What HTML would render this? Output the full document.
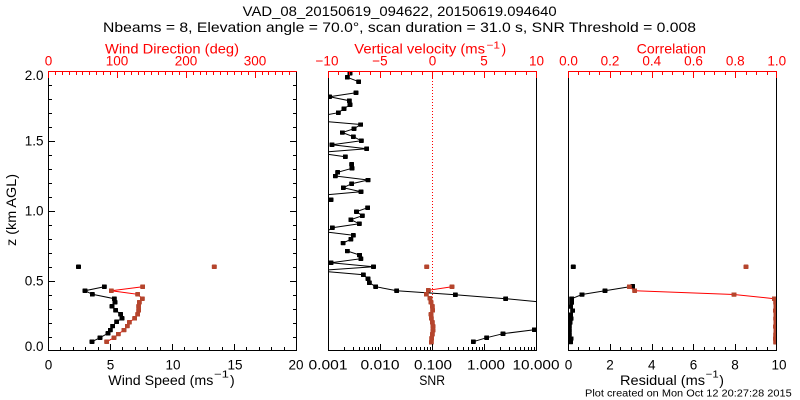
<!DOCTYPE html>
<html><head><meta charset="utf-8"><style>
html,body{margin:0;padding:0;background:#fff;}
svg{display:block;}
text{font-family:"Liberation Sans",sans-serif;}
</style></head><body>
<svg width="800" height="400" viewBox="0 0 800 400" xmlns="http://www.w3.org/2000/svg">
<defs>
<marker id="mb" markerWidth="5" markerHeight="4.5" refX="2.5" refY="2.25" markerUnits="userSpaceOnUse"><rect width="5" height="4.5" rx="0.8" fill="#000"/></marker>
<marker id="mr" markerWidth="5" markerHeight="4.5" refX="2.5" refY="2.25" markerUnits="userSpaceOnUse"><rect width="5" height="4.5" rx="0.8" fill="#b5452d"/></marker>
<clipPath id="c2"><rect x="328.5" y="71" width="208" height="280"/></clipPath>
<clipPath id="c3"><rect x="568.5" y="71" width="208" height="280"/></clipPath>
</defs>
<rect width="800" height="400" fill="#fff"/>

<!-- Titles -->
<text x="242.7" y="16" font-size="14" textLength="314" lengthAdjust="spacingAndGlyphs">VAD_08_20150619_094622, 20150619.094640</text>
<text x="103" y="32" font-size="14" textLength="593" lengthAdjust="spacingAndGlyphs">Nbeams = 8, Elevation angle = 70.0°, scan duration = 31.0 s, SNR Threshold = 0.008</text>

<!-- ========== Panel 1 ========== -->
<g fill="none" stroke-width="1">
<polyline points="104.3,286.7 85,290.7 92.3,294.3 114.3,298.7 115,302.3 112,306.3 115.7,310.3 120.7,314.3 122,318.3 116.7,321.7 112.7,326 110.3,330 108,333.3 100,337.7 92,341.7" stroke="#000" marker-start="url(#mb)" marker-mid="url(#mb)" marker-end="url(#mb)"/>
<polyline points="142.7,286.7 111.3,290.7 137.7,294.3 142.3,298.7 139.3,302.3 138.7,306.3 138.7,310.3 137.7,314.3 134.7,318.3 129.3,322.3 127.3,326 124,330 118.3,334 114,337.7 106.7,341.7" stroke="#f00" marker-start="url(#mr)" marker-mid="url(#mr)" marker-end="url(#mr)"/>
</g>
<rect x="76" y="264.5" width="5" height="4.5" rx="0.8" fill="#000"/>
<rect x="211.8" y="264.5" width="5" height="4.5" rx="0.8" fill="#b5452d"/>

<g shape-rendering="crispEdges" fill="none" stroke-width="1">
<path stroke="#000" d="M48.5 71V351M296.5 71V351M48 350.5H297"/>
<path stroke="#f00" d="M48 71.5H297"/>
<path stroke="#000" d="M49 85.5h3M49 99.5h3M49 113.5h3M49 127.5h3M49 141.5h6M49 155.5h3M49 169.5h3M49 183.5h3M49 197.5h3M49 211.5h6M49 225.5h3M49 239.5h3M49 253.5h3M49 267.5h3M49 281.5h6M49 295.5h3M49 309.5h3M49 323.5h3M49 337.5h3"/>
<path stroke="#000" d="M296 85.5h-3M296 99.5h-3M296 113.5h-3M296 127.5h-3M296 141.5h-6M296 155.5h-3M296 169.5h-3M296 183.5h-3M296 197.5h-3M296 211.5h-6M296 225.5h-3M296 239.5h-3M296 253.5h-3M296 267.5h-3M296 281.5h-6M296 295.5h-3M296 309.5h-3M296 323.5h-3M296 337.5h-3"/>
<path stroke="#000" d="M60.5 350v-3M73.5 350v-3M85.5 350v-3M98.5 350v-3M110.5 350v-6M122.5 350v-3M135.5 350v-3M147.5 350v-3M160.5 350v-3M172.5 350v-6M184.5 350v-3M197.5 350v-3M209.5 350v-3M222.5 350v-3M234.5 350v-6M246.5 350v-3M259.5 350v-3M271.5 350v-3M284.5 350v-3"/>
<path stroke="#f00" d="M48.5 72v6M55.5 72v3M62.5 72v3M69.5 72v3M76.5 72v3M82.5 72v3M89.5 72v3M96.5 72v3M103.5 72v3M110.5 72v3M117.5 72v6M124.5 72v3M131.5 72v3M138.5 72v3M144.5 72v3M151.5 72v3M158.5 72v3M165.5 72v3M172.5 72v3M179.5 72v3M186.5 72v6M193.5 72v3M200.5 72v3M206.5 72v3M213.5 72v3M220.5 72v3M227.5 72v3M234.5 72v3M241.5 72v3M248.5 72v3M255.5 72v6M262.5 72v3M268.5 72v3M275.5 72v3M282.5 72v3M289.5 72v3"/>
</g>

<!-- Panel 1 text -->
<text x="105" y="53.5" font-size="14" fill="#f00" textLength="134" lengthAdjust="spacingAndGlyphs">Wind Direction (deg)</text>
<g font-size="13.5" fill="#f00" text-anchor="middle">
<text x="48.5" y="65.5">0</text>
<text x="117" y="65.5">100</text>
<text x="186" y="65.5">200</text>
<text x="255" y="65.5">300</text>
</g>
<g font-size="13.5" fill="#000" text-anchor="end">
<text x="43.5" y="80">2.0</text>
<text x="43.5" y="145.5">1.5</text>
<text x="43.5" y="215.5">1.0</text>
<text x="43.5" y="285.5">0.5</text>
<text x="43.5" y="351">0.0</text>
</g>
<text transform="translate(16,210) rotate(-90)" font-size="13.5" text-anchor="middle" textLength="72" lengthAdjust="spacingAndGlyphs">z (km AGL)</text>
<g font-size="13.5" fill="#000" text-anchor="middle">
<text x="48.5" y="369.5">0</text>
<text x="110.5" y="369.5">5</text>
<text x="173" y="369.5">10</text>
<text x="235" y="369.5">15</text>
<text x="296" y="369.5">20</text>
</g>
<text x="108.3" y="385" font-size="14" textLength="105" lengthAdjust="spacingAndGlyphs">Wind Speed (ms</text>
<text x="214" y="377.5" font-size="10" textLength="15" lengthAdjust="spacingAndGlyphs">−1</text>
<text x="230" y="385" font-size="14">)</text>

<!-- ========== Panel 2 ========== -->
<line x1="432.5" y1="72" x2="432.5" y2="350" stroke="#f00" stroke-width="1" stroke-dasharray="1,2" shape-rendering="crispEdges"/>
<g clip-path="url(#c2)" fill="none" stroke-width="1">
<g stroke="#000">
<polyline points="350,73.3 347.3,77.3 358.7,81.7" marker-start="url(#mb)" marker-mid="url(#mb)" marker-end="url(#mb)"/>
<polyline points="356,92.7 329.5,96.7 349.3,100.7 350,104.7 344,108.7 338.3,112.7 316,116.7 316,120.7 360.7,124.5 354,128.7 342.3,132.5 353.3,136.7 361.3,140.7 332,144.7 366.7,148.7 316,152.7 345.3,156.7" marker-start="url(#mb)" marker-mid="url(#mb)" marker-end="url(#mb)"/>
<polyline points="351.7,164.3 352,168.3 337.7,172.3 335.3,176 368,180 351.7,183.7 343.3,187.7 361,191.7 316,195.7 331,199.7" marker-start="url(#mb)" marker-mid="url(#mb)" marker-end="url(#mb)"/>
<polyline points="367.7,207.7 356.5,211.7 362.3,215.7 350.8,219.7 359.3,223.7 332.3,227.7 326,232 353.3,235.3 350.8,239.3 343.2,243" marker-start="url(#mb)" marker-mid="url(#mb)" marker-end="url(#mb)"/>
<polyline points="347.3,251 359.5,255 360.8,258.7 331,262.7 373.5,266.7 316,270.7 363.3,274.7 368,278.7 369.3,282.7 375.7,286.7 396.7,290.7 455.3,294.7 505.7,298.7 547,302.7 560,306.7 560,310.7 560,314.7 560,318.7 560,322.7 547,325.7 534.3,329.7 503,333.7 486.7,337.7 473.3,341.7" marker-start="url(#mb)" marker-mid="url(#mb)" marker-end="url(#mb)"/>
</g>
<polyline stroke="#f00" points="452,286.7 428.3,290.3 426.3,294.3 430,298.3 431,302.3 432.3,306.3 432.7,310.3 431,314.3 431.3,318.3 432.3,322.3 433,326.3 433,330.3 432.3,334.3 431.7,338.3 431.3,342.3" marker-start="url(#mr)" marker-mid="url(#mr)" marker-end="url(#mr)"/>
<rect x="424.2" y="264.5" width="5" height="4.5" rx="0.8" fill="#b5452d"/>
</g>

<g shape-rendering="crispEdges" fill="none" stroke-width="1">
<path stroke="#000" d="M328.5 71V351M536.5 71V351M328 350.5H537"/>
<path stroke="#f00" d="M328 71.5H537"/>
<path stroke="#000" d="M380.5 350v-6M432.5 350v-6M484.5 350v-6M344.5 350v-3M353.5 350v-3M359.5 350v-3M364.5 350v-3M368.5 350v-3M372.5 350v-3M375.5 350v-3M378.5 350v-3M396.5 350v-3M405.5 350v-3M411.5 350v-3M416.5 350v-3M420.5 350v-3M424.5 350v-3M427.5 350v-3M430.5 350v-3M448.5 350v-3M457.5 350v-3M463.5 350v-3M468.5 350v-3M472.5 350v-3M476.5 350v-3M479.5 350v-3M482.5 350v-3M500.5 350v-3M509.5 350v-3M515.5 350v-3M520.5 350v-3M524.5 350v-3M528.5 350v-3M531.5 350v-3M534.5 350v-3"/>
<path stroke="#f00" d="M328.5 72v6M338.5 72v3M349.5 72v3M359.5 72v3M370.5 72v3M380.5 72v6M390.5 72v3M401.5 72v3M411.5 72v3M422.5 72v3M432.5 72v6M442.5 72v3M453.5 72v3M463.5 72v3M474.5 72v3M484.5 72v6M494.5 72v3M505.5 72v3M515.5 72v3M526.5 72v3M536.5 72v6"/>
</g>

<!-- Panel 2 text -->
<text x="354.3" y="53.5" font-size="14" fill="#f00" textLength="130.7" lengthAdjust="spacingAndGlyphs">Vertical velocity (ms</text>
<text x="486.5" y="48.5" font-size="10" fill="#f00" textLength="13.5" lengthAdjust="spacingAndGlyphs">−1</text>
<text x="501.5" y="53.5" font-size="14" fill="#f00">)</text>
<g font-size="13.5" fill="#f00" text-anchor="middle">
<text x="327" y="65.5">−10</text>
<text x="380" y="65.5">−5</text>
<text x="432.5" y="65.5">0</text>
<text x="484" y="65.5">5</text>
<text x="536.5" y="65.5">10</text>
</g>
<g font-size="13.5" fill="#000" text-anchor="middle">
<text x="328" y="369.5" textLength="39" lengthAdjust="spacingAndGlyphs">0.001</text>
<text x="380" y="369.5" textLength="39" lengthAdjust="spacingAndGlyphs">0.010</text>
<text x="433" y="369.5" textLength="38" lengthAdjust="spacingAndGlyphs">0.100</text>
<text x="486" y="369.5" textLength="38" lengthAdjust="spacingAndGlyphs">1.000</text>
<text x="536" y="369.5" textLength="47" lengthAdjust="spacingAndGlyphs">10.000</text>
</g>
<text x="419.3" y="385" font-size="14" textLength="25.7" lengthAdjust="spacingAndGlyphs">SNR</text>

<!-- ========== Panel 3 ========== -->
<g clip-path="url(#c3)" fill="none" stroke-width="1">
<polyline stroke="#000" points="632.7,286.3 605,290.7 582,294.5 571.7,298.7 571.7,302.5 570.7,306.5 572.7,310.5 570.7,314.5 571,318.5 570,322.5 569.3,326.5 569.3,330.5 569.3,334.5 571,338.5 570.7,342" marker-start="url(#mb)" marker-mid="url(#mb)" marker-end="url(#mb)"/>
<polyline stroke="#f00" points="629.3,286.7 634.7,290.7 734,294.5 774.3,298.7 775.7,302.5 776,306.5 775.3,310.5 776,314.5 775.7,318.5 776,322.5 775.3,326.5 776,330.5 775.7,334.5 775.3,338.5 775.7,342.3" marker-start="url(#mr)" marker-mid="url(#mr)" marker-end="url(#mr)"/>
</g>
<rect x="570.8" y="264.5" width="5" height="4.5" rx="0.8" fill="#000"/>
<rect x="743.5" y="264.5" width="5" height="4.5" rx="0.8" fill="#b5452d"/>

<g shape-rendering="crispEdges" fill="none" stroke-width="1">
<path stroke="#000" d="M568.5 71V351M776.5 71V351M568 350.5H777"/>
<path stroke="#f00" d="M568 71.5H777"/>
<path stroke="#000" d="M578.5 350v-3M589.5 350v-3M599.5 350v-3M610.5 350v-6M620.5 350v-3M631.5 350v-3M641.5 350v-3M652.5 350v-6M662.5 350v-3M672.5 350v-3M683.5 350v-3M693.5 350v-6M704.5 350v-3M714.5 350v-3M725.5 350v-3M735.5 350v-6M746.5 350v-3M756.5 350v-3M767.5 350v-3"/>
<path stroke="#f00" d="M568.5 72v6M578.5 72v3M589.5 72v3M599.5 72v3M610.5 72v6M620.5 72v3M631.5 72v3M641.5 72v3M652.5 72v6M662.5 72v3M672.5 72v3M683.5 72v3M693.5 72v6M704.5 72v3M714.5 72v3M725.5 72v3M735.5 72v6M746.5 72v3M756.5 72v3M767.5 72v3M776.5 72v6"/>
</g>

<!-- Panel 3 text -->
<text x="636.7" y="53.5" font-size="14" fill="#f00" textLength="69.3" lengthAdjust="spacingAndGlyphs">Correlation</text>
<g font-size="13.5" fill="#f00" text-anchor="middle">
<text x="568.5" y="65.5">0.0</text>
<text x="610" y="65.5">0.2</text>
<text x="651.8" y="65.5">0.4</text>
<text x="693.5" y="65.5">0.6</text>
<text x="735.3" y="65.5">0.8</text>
<text x="776.8" y="65.5">1.0</text>
</g>
<g font-size="13.5" fill="#000" text-anchor="middle">
<text x="568.5" y="369.5">0</text>
<text x="610" y="369.5">2</text>
<text x="651.8" y="369.5">4</text>
<text x="693.5" y="369.5">6</text>
<text x="735" y="369.5">8</text>
<text x="779" y="369.5">10</text>
</g>
<text x="620" y="385" font-size="14" textLength="85" lengthAdjust="spacingAndGlyphs">Residual (ms</text>
<text x="705.7" y="377.5" font-size="10" textLength="13" lengthAdjust="spacingAndGlyphs">−1</text>
<text x="719.3" y="385" font-size="14">)</text>
<text x="585" y="396.5" font-size="10" textLength="206.7" lengthAdjust="spacingAndGlyphs">Plot created on Mon Oct 12 20:27:28 2015</text>
</svg>
</body></html>
